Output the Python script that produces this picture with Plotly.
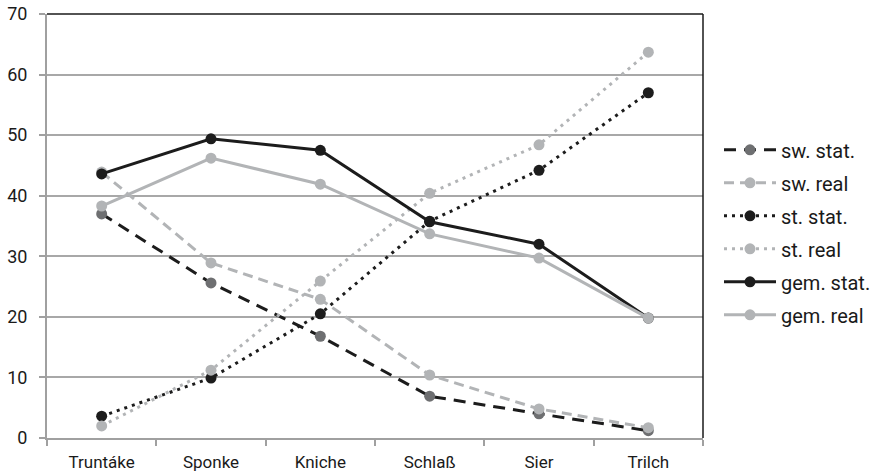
import plotly.graph_objects as go

categories = ["Truntáke", "Sponke", "Kniche", "Schlaß", "Sier", "Trilch"]
sw_stat = [37.0, 25.6, 16.8, 6.9, 4.0, 1.2]
sw_real = [43.9, 28.9, 22.9, 10.4, 4.8, 1.7]
st_stat = [3.6, 9.9, 20.5, 35.8, 44.2, 57.0]
st_real = [2.0, 11.2, 25.9, 40.4, 48.4, 63.7]
gem_stat = [43.6, 49.4, 47.5, 35.7, 32.0, 19.8]
gem_real = [38.3, 46.2, 41.9, 33.7, 29.7, 19.8]
y_ticks = [0, 10, 20, 30, 40, 50, 60, 70]

BLACK = "#1c1c1c"
LGRAY = "#b2b4b6"
DGRAY = "#6e6f71"

series = [
    ("sw. stat.", sw_stat, BLACK, DGRAY, "12px,8px"),
    ("sw. real", sw_real, LGRAY, LGRAY, "10px,6px"),
    ("st. stat.", st_stat, BLACK, BLACK, "3px,5px"),
    ("st. real", st_real, LGRAY, LGRAY, "3px,5px"),
    ("gem. stat.", gem_stat, BLACK, BLACK, "solid"),
    ("gem. real", gem_real, LGRAY, LGRAY, "solid"),
]

fig = go.Figure()
for i, (name, vals, lc, mc, dash) in enumerate(series):
    fig.add_trace(go.Scatter(
        x=categories, y=vals, name=name, mode="lines+markers",
        legendgroup=f"g{i}",
        line=dict(color=lc, width=3, dash=dash),
        marker=dict(color=mc, size=11, line=dict(width=0)),
    ))

fig.update_layout(
    width=878, height=476,
    margin=dict(l=47, r=175, t=14, b=38, autoexpand=False),
    paper_bgcolor="white", plot_bgcolor="white",
    font=dict(family="Roboto, sans-serif", size=17, color="#1a1a1a"),
    showlegend=True,
    legend=dict(x=1.0244, xanchor="left", y=0.485, yanchor="middle",
                font=dict(size=20), tracegroupgap=4, itemwidth=52,
                bgcolor="rgba(0,0,0,0)"),
    xaxis=dict(
        type="category", showgrid=False, showline=True, linecolor="#a0a0a0",
        linewidth=2, ticks="outside", tickson="boundaries", ticklen=6,
        tickcolor="#a0a0a0", tickwidth=1.5, range=[-0.5, 5.5],
        tickfont=dict(size=17), automargin=False, ticklabelstandoff=8,
    ),
    yaxis=dict(
        range=[0, 70], tickvals=y_ticks, showgrid=True, gridcolor="#a8a8a8",
        gridwidth=1.5, showline=True, linecolor="#a0a0a0", linewidth=2,
        ticks="outside", ticklen=6, tickcolor="#a0a0a0", tickwidth=1.5,
        zeroline=False, tickfont=dict(size=18), ticklabelstandoff=8,
        automargin=False, ticklabeloverflow="allow",
    ),
    shapes=[
        dict(type="line", xref="paper", yref="paper", x0=0, x1=1, y0=1, y1=1,
             line=dict(color="#1a1a1a", width=1.5)),
        dict(type="line", xref="paper", yref="paper", x0=1, x1=1, y0=0, y1=1,
             line=dict(color="#1a1a1a", width=1.5)),
    ],
)

fig.write_html("out.html", config={"displayModeBar": False},
               post_script="document.body.style.margin='0';")
